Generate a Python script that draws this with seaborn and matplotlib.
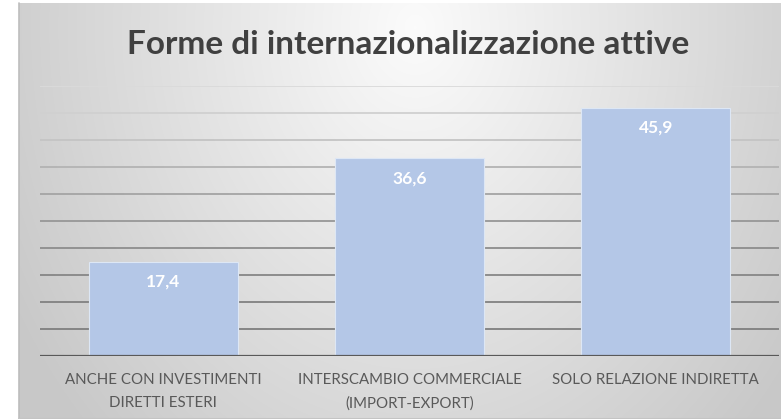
import numpy as np
import pandas as pd
import matplotlib
matplotlib.use("Agg")
import matplotlib.pyplot as plt
import seaborn as sns

# ---- data ----
categories = ["ANCHE CON INVESTIMENTI\nDIRETTI ESTERI",
              "INTERSCAMBIO COMMERCIALE\n(IMPORT-EXPORT)",
              "SOLO RELAZIONE INDIRETTA"]
values = [17.4, 36.6, 45.9]
value_labels = ["17,4", "36,6", "45,9"]
title = "Forme di internazionalizzazione attive"
grid_values = [5, 10, 15, 20, 25, 30, 35, 40, 45, 50]

sns.set_theme(style="white")
plt.rcParams['font.family'] = ['Lato', 'DejaVu Sans']

W, H = 781, 419
fig = plt.figure(figsize=(W / 100, H / 100), dpi=100)
fig.patch.set_facecolor("white")

# background panel with radial gradient
bx0, by0 = 19, 3
bg = fig.add_axes([bx0 / W, 0, (W - bx0) / W, (H - by0) / H], zorder=0)
nx, ny = 400, 220
xx, yy = np.meshgrid(np.linspace(0, 1, nx), np.linspace(0, 1, ny))
r = np.sqrt(((xx - 0.52) / 0.55) ** 2 + ((yy - 0.06) / 1.25) ** 2)
r = np.clip(r, 0, 1.1)
val = 0.985 - 0.18 * r
img = np.dstack([val, val, val])
bg.imshow(img, aspect="auto", extent=[0, 1, 1, 0], interpolation="bilinear")
bg.set_xlim(0, 1)
bg.set_ylim(1, 0)
bg.set_xticks([])
bg.set_yticks([])
for s in bg.spines.values():
    s.set_visible(False)
bg.plot([0, 0], [0, 1], color="#bdbdbd", lw=1.2, transform=bg.transAxes, clip_on=False)
bg.plot([0, 1], [0, 0], color="#c4c4c4", lw=1.5, transform=bg.transAxes, clip_on=False)

# main axes
left, right, bottom_px, top_px = 40, 779, 356, 86
ax = fig.add_axes([left / W, (H - bottom_px) / H, (right - left) / W, (bottom_px - top_px) / H], zorder=1)
ax.set_facecolor("none")

df = pd.DataFrame({"cat": categories, "val": values})
sns.barplot(data=df, x="cat", y="val", color="#B4C7E7", saturation=1, width=0.605,
            edgecolor="#dde7f5", linewidth=0.8, ax=ax, zorder=3)

ax.set_ylim(0, 50)
ax.set_xlim(-0.5, 2.5)

grid_colors = ["#7f7f7f", "#818181", "#868686", "#8d8d8d", "#979797",
               "#a4a4a4", "#b3b3b3", "#c4c4c4", "#d0d0d0", "#dadada"]
for gv, gc in zip(grid_values, grid_colors):
    ax.axhline(gv, color=gc, lw=1.3, zorder=1)
ax.axhline(0, color="#595959", lw=1.6, zorder=4)

for s in ax.spines.values():
    s.set_visible(False)
ax.set_yticks([])
ax.set_xlabel("")
ax.set_ylabel("")
ax.tick_params(axis="x", length=0, pad=12, labelsize=10.8, labelcolor="#595959")
for t in ax.get_xticklabels():
    t.set_linespacing(1.85)
    t.set_multialignment("center")

ax.bar_label(ax.containers[0], labels=value_labels, padding=-20, color="white",
             fontweight="bold", fontsize=12.5)

fig.text((bx0 + W) / 2 / W + 0.01, 1 - 45 / H, title, ha="center", va="center",
         fontsize=24, fontweight="bold", color="#404040")

fig.savefig("out.png", dpi=100)
